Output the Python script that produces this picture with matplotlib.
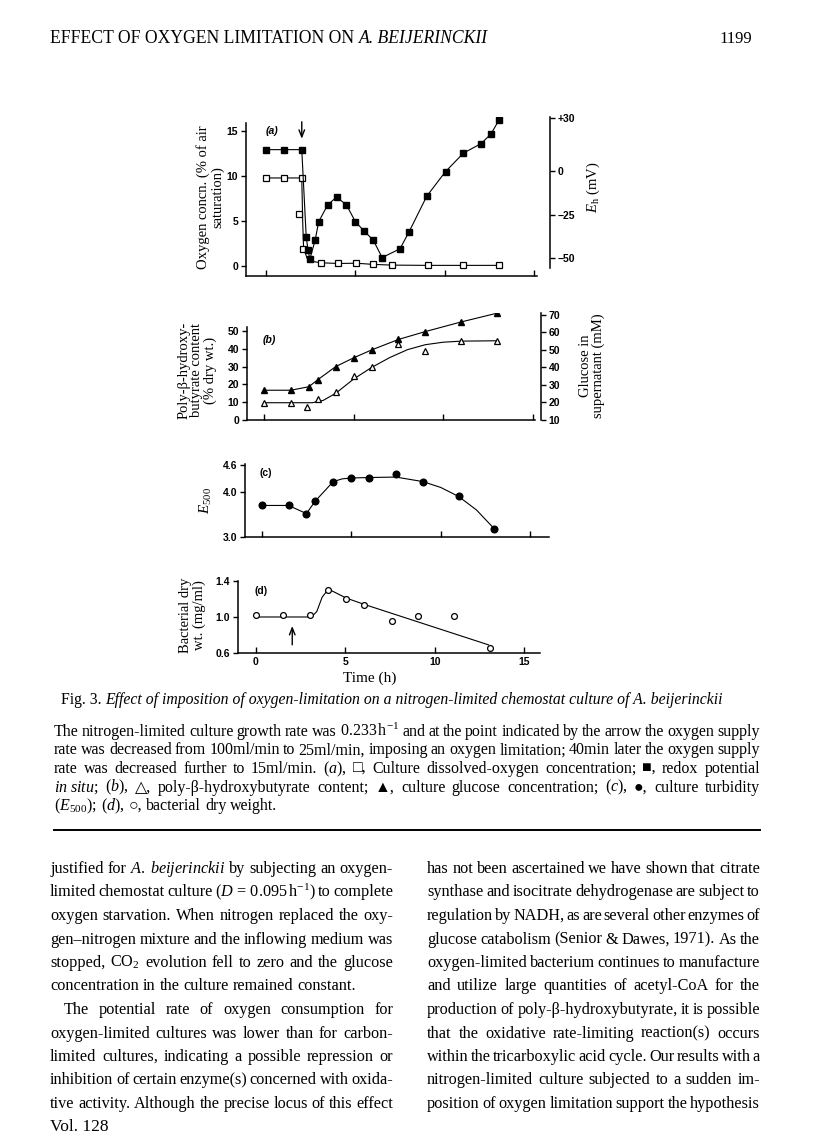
import matplotlib
matplotlib.use('Agg')
import matplotlib.pyplot as plt
from matplotlib import rcParams

rcParams['font.family'] = ['Liberation Serif', 'DejaVu Sans']
rcParams['mathtext.fontset'] = 'custom'
rcParams['mathtext.rm'] = 'Liberation Serif'
rcParams['mathtext.it'] = 'Liberation Serif:italic'
rcParams['mathtext.bf'] = 'Liberation Serif:bold'

W, H = 816, 1136

# (a) dissolved oxygen (% air saturation) and redox potential (mV)
t_o2 = [0, 1, 2, 1.85, 2.05, 3.05, 4.05, 5.05, 6.0, 7.05, 9.05, 11.05, 13.05]
o2 = [9.75, 9.75, 9.75, 5.8, 1.85, 0.33, 0.25, 0.28, 0.15, 0.07, 0.04, 0.04, 0.04]
t_o2_line = [0, 2.0, 2.05, 2.1, 2.3, 2.7, 3.05, 4.05, 5.05, 6.0, 7.05, 9.05, 13.05]
o2_line = [9.75, 9.75, 5.0, 2.0, 0.8, 0.45, 0.33, 0.25, 0.28, 0.15, 0.07, 0.04, 0.04]
t_eh = [0, 1, 2, 2.25, 2.35, 2.45, 2.75, 2.95, 3.45, 3.95, 4.5, 5.0, 5.5, 6.0, 6.5,
        7.5, 8.0, 9.0, 10.05, 11.05, 12.05, 12.6, 13.05]
eh = [12, 12, 12, -38, -45, -50.5, -39.5, -29, -19.5, -15, -19.5, -29, -34.5, -39.5,
      -49.5, -44.5, -35, -14.5, -0.5, 10, 15.5, 21, 29]

# (b) poly-beta-hydroxybutyrate (% dry wt) and glucose (mM)
t_b = [0, 1.5, 2.5, 3, 4, 5, 6, 7.5, 9, 11, 13]
glucose = [27, 27, 29, 33, 40.5, 45.5, 50, 56, 60.5, 66, 71]
t_phb = [0, 1.5, 2.4, 3, 4, 5, 6, 7.5, 9, 11, 13]
phb = [9.7, 9.7, 7.5, 11.6, 15.9, 24.9, 29.8, 42.9, 38.6, 44.2, 44.2]
t_phb_line = [0, 2.7, 3.3, 4, 5, 6, 7, 8, 9, 10, 11, 13]
phb_line = [9.7, 9.7, 11, 15, 23, 29.5, 35, 39.5, 42.3, 43.7, 44.3, 44.5]

# (c) turbidity
t_c = [0, 1.5, 2.5, 3, 4, 5, 6, 7.5, 9, 11, 13]
e500 = [3.70, 3.70, 3.52, 3.80, 4.23, 4.32, 4.31, 4.39, 4.23, 3.90, 3.18]
t_c_line = [0, 1.5, 2.5, 3, 4, 4.5, 5, 6, 7.5, 9, 10, 11, 12, 13]
e500_line = [3.70, 3.70, 3.52, 3.80, 4.23, 4.29, 4.31, 4.32, 4.33, 4.23, 4.10, 3.90, 3.60, 3.18]

# (d) bacterial dry weight
t_d = [0, 1.5, 3, 4.05, 5.05, 6.05, 7.6, 9.05, 11.05, 13.05]
dry = [1.02, 1.02, 1.02, 1.30, 1.20, 1.13, 0.95, 1.01, 1.01, 0.655]
t_d_line = [0, 3.1, 3.4, 3.7, 4.05, 5.05, 6.05, 13.0]
dry_line = [1.0, 1.0, 1.06, 1.22, 1.31, 1.21, 1.14, 0.69]

TICK = 7.5
LAB = 10.5

fig = plt.figure(figsize=(W / 100, H / 100), dpi=100)
rend = fig.canvas.get_renderer()


def make_ax(l, r, t, b):
    ax = fig.add_axes([l / W, 1 - b / H, (r - l) / W, (b - t) / H])
    ax.patch.set_alpha(0)
    for s in ['top', 'right']:
        ax.spines[s].set_visible(False)
    for s in ['left', 'bottom']:
        ax.spines[s].set_linewidth(1.1)
    ax.tick_params(axis='x', direction='in', length=4, width=1, labelbottom=False)
    ax.tick_params(axis='y', direction='out', length=3.5, width=1, pad=2)
    ax.set_xticks([0, 5, 10, 15])
    return ax


def right_ax(ax, lo, hi):
    ax2 = ax.twinx()
    ax2.set_ylim(lo, hi)
    for s in ['top', 'left', 'bottom']:
        ax2.spines[s].set_visible(False)
    ax2.spines['right'].set_linewidth(1.1)
    ax2.tick_params(axis='y', direction='out', length=3.5, width=1, pad=2)
    return ax2


def style_labels(ax):
    for lab in ax.get_yticklabels() + ax.get_xticklabels():
        lab.set_fontfamily('Liberation Sans')
        lab.set_fontweight('bold')
        lab.set_fontsize(TICK)


def ftext(x, y, s, **kw):
    return fig.text(x / W, 1 - y / H, s, **kw)


def panel_tag(ax, x, y, s, italic):
    ax.text(x, y, s, fontfamily='Liberation Sans', fontweight='bold',
            style='italic' if italic else 'normal', fontsize=TICK)


arrow_kw = dict(arrowstyle='->,head_length=0.5,head_width=0.2', lw=1, color='k')

# ---- panel (a)
ax = make_ax(245.7, 550, 117, 276)
ax.set_xlim(-1.14, 15.9)
ax.set_ylim(-1.14, 16.52)
ax.spines['left'].set_bounds(-1.14, 15.9)
ax.spines['bottom'].set_bounds(-1.14, 15.2)
ax.set_yticks([0, 5, 10, 15])
ax.plot(t_o2_line, o2_line, color='k', lw=0.8)
ax.plot(t_o2, o2, ls='none', marker='s', ms=3.9, mfc='white', mec='k', mew=0.9)
ax.annotate('', xy=(2, 13.8), xytext=(2, 16.3), annotation_clip=False, arrowprops=arrow_kw)
panel_tag(ax, -0.05, 14.6, '(a)', True)
style_labels(ax)
ax2 = right_ax(ax, -60.0, 30.6)
ax2.spines['right'].set_bounds(-55.5, 30.6)
ax2.set_yticks([30, 0, -25, -50])
ax2.set_yticklabels(['+30', '0', '\u221225', '\u221250'])
ax2.plot(t_eh, eh, color='k', lw=0.8, marker='s', ms=3.9, mfc='k', mec='k')
style_labels(ax2)
ftext(210, 197, 'Oxygen concn. (% of air\nsaturation)', rotation=90, ha='center', va='center',
      fontsize=LAB, multialignment='center', linespacing=1.05)
ftext(593, 187, r'$\mathit{E}_{\mathrm{h}}$ (mV)', rotation=90, ha='center', va='center', fontsize=LAB)

# ---- panel (b)
ax = make_ax(246.7, 541, 313, 420)
ax.set_xlim(-0.965, 15.45)
ax.set_ylim(0, 60.1)
ax.spines['left'].set_bounds(0, 52.2)
ax.spines['bottom'].set_bounds(-0.965, 15.1)
ax.set_yticks([0, 10, 20, 30, 40, 50])
ax.plot(t_phb_line, phb_line, color='k', lw=0.8)
ax.plot(t_phb, phb, ls='none', marker='^', ms=4.4, mfc='white', mec='k', mew=0.9)
panel_tag(ax, -0.05, 43.5, '(b)', True)
style_labels(ax)
ax2 = right_ax(ax, 10, 71.1)
ax2.set_yticks([10, 20, 30, 40, 50, 60, 70])
ax2.plot(t_b, glucose, color='k', lw=0.8, marker='^', ms=4.4, mfc='k', mec='k')
style_labels(ax2)
ftext(197, 370, 'Poly-\u03b2-hydroxy-\nbutyrate content\n(% dry wt.)', rotation=90, ha='center',
      va='center', fontsize=LAB, multialignment='center', linespacing=1.0)
ftext(592, 366, 'Glucose in\nsupernatant (mM)', rotation=90, ha='center', va='center',
      fontsize=LAB, multialignment='center', linespacing=1.0)

# ---- panel (c)
ax = make_ax(245, 549, 464, 537)
ax.set_xlim(-0.93, 16.05)
ax.set_ylim(3.0, 4.62)
ax.set_yticks([3.0, 4.0, 4.6])
ax.set_yticklabels(['3.0', '4.0', '4.6'])
ax.plot(t_c_line, e500_line, color='k', lw=0.8)
ax.plot(t_c, e500, ls='none', marker='o', ms=4.8, mfc='k', mec='k')
panel_tag(ax, -0.1, 4.36, '(c)', False)
style_labels(ax)
ftext(206, 500, r'$\mathit{E}_{500}$', rotation=90, ha='center', va='center', fontsize=11)

# ---- panel (d)
ax = make_ax(238, 540, 579, 653)
ax.set_xlim(-1.0, 15.87)
ax.set_ylim(0.6, 1.422)
ax.spines['left'].set_bounds(0.6, 1.4)
ax.set_yticks([0.6, 1.0, 1.4])
ax.set_yticklabels(['0.6', '1.0', '1.4'])
ax.tick_params(axis='x', labelbottom=True, pad=3)
ax.set_xticklabels(['0', '5', '10', '15'])
ax.plot(t_d_line, dry_line, color='k', lw=0.8)
ax.plot(t_d, dry, ls='none', marker='o', ms=4.2, mfc='white', mec='k', mew=0.9)
ax.annotate('', xy=(2.03, 0.93), xytext=(2.03, 0.66), annotation_clip=False, arrowprops=arrow_kw)
panel_tag(ax, -0.1, 1.25, '(d)', False)
style_labels(ax)
ftext(193, 615, 'Bacterial dry\nwt. (mg/ml)', rotation=90, ha='center', va='center',
      fontsize=LAB, multialignment='center', linespacing=1.05)
ftext(370, 678, 'Time (h)', ha='center', va='center', fontsize=11)


# ---- page text
def split_words(line):
    words, cur, inmath = [], '', False
    for ch in line:
        if ch == '$':
            inmath = not inmath
        if ch == ' ' and not inmath:
            words.append(cur)
            cur = ''
        else:
            cur += ch
    words.append(cur)
    return words


def fit_size(line, width, min_space, size=10.0):
    # font size at which the words plus minimal spaces just fill the width
    words = split_words(line)
    objs = [ftext(0, 0, w, fontsize=size) for w in words]
    ws = sum(o.get_window_extent(rend).width for o in objs)
    for o in objs:
        o.remove()
    need = ws + min_space * size * 100 / 72 * (len(words) - 1)
    return size * width / need


def block_size(lines, width, cap):
    fits = sorted(fit_size(s, width, 0.2) for s in lines)
    return min(cap, fits[len(fits) // 4])


def text_line(x0, x1, yb, line, size, justify=True):
    words = split_words(line)
    if justify and len(words) > 1:
        size = min(size, fit_size(line, x1 - x0, 0.12))
    objs = [ftext(0, yb, w, fontsize=size, va='baseline', ha='left') for w in words]
    widths = [o.get_window_extent(rend).width for o in objs]
    gap = 0.25 * size * 100 / 72
    if justify and len(words) > 1:
        gap = (x1 - x0 - sum(widths)) / (len(words) - 1)
    x = x0
    for o, w in zip(objs, widths):
        o.set_position((x / W, 1 - yb / H))
        x += w + gap


def two_part(x, yb, a, b, size, center=None):
    t1 = ftext(x, yb, a, fontsize=size, va='baseline')
    t2 = ftext(x, yb, b, fontsize=size, va='baseline', style='italic')
    w1 = t1.get_window_extent(rend).width
    w2 = t2.get_window_extent(rend).width
    if center is not None:
        x = center - (w1 + w2) / 2
    t1.set_position((x / W, 1 - yb / H))
    t2.set_position(((x + w1) / W, 1 - yb / H))
    return w1 + w2


# running head, fitted to its printed width
hw = two_part(-500, 43, 'EFFECT OF OXYGEN LIMITATION ON ', 'A. BEIJERINCKII', 10)
fig.texts[-2].remove()
fig.texts[-1].remove()
two_part(50, 43, 'EFFECT OF OXYGEN LIMITATION ON ', 'A. BEIJERINCKII', 10 * 437 / hw)
ftext(752, 43, '1199', fontsize=12, va='baseline', ha='right')

# figure caption
cap_a = 'Fig. 3. '
cap_b = 'Effect of imposition of oxygen-limitation on a nitrogen-limited chemostat culture of A. beijerinckii'
cw = two_part(-900, 704, cap_a, cap_b, 10)
fig.texts[-2].remove()
fig.texts[-1].remove()
two_part(0, 704, cap_a, cap_b, 10 * 665 / cw, center=392)

legend_lines = [
    r'The nitrogen-limited culture growth rate was $0.233\,\mathrm{h}^{-1}$ and at the point indicated by the arrow the oxygen supply',
    'rate was decreased from 100ml/min to 25ml/min, imposing an oxygen limitation; 40min later the oxygen supply',
    r'rate was decreased further to 15ml/min. ($\mathit{a}$), □, Culture dissolved-oxygen concentration; ■, redox potential',
    r'$\mathit{in\ situ}$; ($\mathit{b}$), △, poly-β-hydroxybutyrate content; ▲, culture glucose concentration; ($\mathit{c}$), ●, culture turbidity',
    r'($\mathit{E}_{500}$); ($\mathit{d}$), ○, bacterial dry weight.',
]
psize = block_size(legend_lines[:-1], 706, 12.0)
for i, s in enumerate(legend_lines):
    text_line(54, 760, 736 + 18.5 * i, s, psize, justify=(i < len(legend_lines) - 1))

fig.add_artist(plt.Line2D([54 / W, 760 / W], [1 - 830 / H, 1 - 830 / H], color='k', lw=1.4))

col_left = [
    r'justified for $\mathit{A.}$ $\mathit{beijerinckii}$ by subjecting an oxygen-',
    r'limited chemostat culture ($\mathit{D}\,=\,0.095\,\mathrm{h}^{-1}$) to complete',
    'oxygen starvation. When nitrogen replaced the oxy-',
    'gen\u2013nitrogen mixture and the inflowing medium was',
    r'stopped, CO$_2$ evolution fell to zero and the glucose',
    'concentration in the culture remained constant.',
    'The potential rate of oxygen consumption for',
    'oxygen-limited cultures was lower than for carbon-',
    'limited cultures, indicating a possible repression or',
    'inhibition of certain enzyme(s) concerned with oxida-',
    'tive activity. Although the precise locus of this effect',
]
col_right = [
    'has not been ascertained we have shown that citrate',
    'synthase and isocitrate dehydrogenase are subject to',
    'regulation by NADH, as are several other enzymes of',
    'glucose catabolism (Senior & Dawes, 1971). As the',
    'oxygen-limited bacterium continues to manufacture',
    'and utilize large quantities of acetyl-CoA for the',
    'production of poly-\u03b2-hydroxybutyrate, it is possible',
    'that the oxidative rate-limiting reaction(s) occurs',
    'within the tricarboxylic acid cycle. Our results with a',
    'nitrogen-limited culture subjected to a sudden im-',
    'position of oxygen limitation support the hypothesis',
]
lc0, lc1, rc0, rc1 = 50, 393, 427, 760
full_left = col_left[:5] + col_left[7:]
bsize = block_size(full_left + col_right, 338, 13.0)
for i, s in enumerate(col_left):
    x0 = lc0 + (14 if i == 6 else 0)
    text_line(x0, lc1, 873 + 23.5 * i, s, bsize, justify=(i != 5))
for i, s in enumerate(col_right):
    text_line(rc0, rc1, 873 + 23.5 * i, s, bsize)

ftext(50, 1131, 'Vol. 128', fontsize=12.5, va='baseline')

fig.savefig('out.png', dpi=100)
